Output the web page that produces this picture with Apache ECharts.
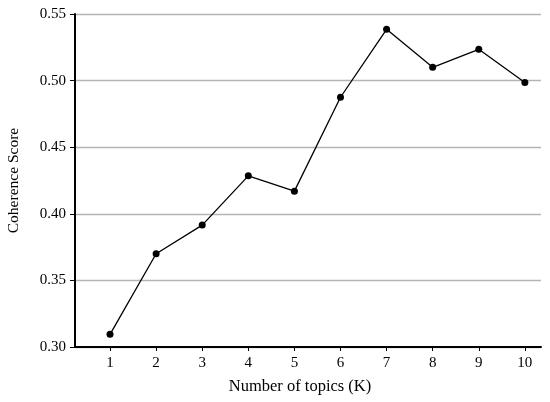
<!DOCTYPE html>
<html>
<head>
<meta charset="utf-8">
<script src="https://cdn.jsdelivr.net/npm/echarts@6/dist/echarts.min.js"></script>
<style>html,body{margin:0;padding:0;background:#fff}#c{width:550px;height:402px}</style>
</head>
<body>
<div id="c"></div>
<script>
const topics = [1, 2, 3, 4, 5, 6, 7, 8, 9, 10];
const coherence = [0.3095, 0.370, 0.3915, 0.4285, 0.4170, 0.4875, 0.5385, 0.5100, 0.5235, 0.4985];
const yTicks = [0.30, 0.35, 0.40, 0.45, 0.50, 0.55];

const font = '"Liberation Serif", "DejaVu Serif", serif';
const chart = echarts.init(document.getElementById('c'));
chart.setOption({
  animation: false,
  backgroundColor: '#fff',
  grid: { left: 75, right: 9, top: 14, bottom: 55, containLabel: false, outerBoundsMode: 'none' },
  xAxis: {
    type: 'value',
    min: 0.24,
    max: 10.35,
    name: 'Number of topics (K)',
    nameLocation: 'middle',
    nameGap: 31,
    nameTextStyle: { fontFamily: font, fontSize: 16.5, color: '#000', padding: [0, 16, 0, 0] },
    axisLine: { show: true, lineStyle: { color: '#000', width: 2 } },
    axisTick: { show: true, customValues: topics, length: 4, lineStyle: { color: '#000', width: 1 } },
    axisLabel: { customValues: topics, margin: 9, fontFamily: font, fontSize: 15, color: '#000' },
    splitLine: { show: false }
  },
  yAxis: {
    type: 'value',
    min: 0.30,
    max: 0.55,
    interval: 0.05,
    name: 'Coherence Score',
    nameLocation: 'middle',
    nameGap: 53,
    nameTextStyle: { fontFamily: font, fontSize: 15.5, color: '#000' },
    axisLine: { show: true, lineStyle: { color: '#000', width: 2 } },
    axisTick: { show: true, length: 5, lineStyle: { color: '#000', width: 1 } },
    axisLabel: { margin: 9, fontFamily: font, fontSize: 15, color: '#000', formatter: v => v.toFixed(2) },
    splitLine: { show: true, lineStyle: { color: '#b4b4b4', width: 1.3 } }
  },
  series: [{
    type: 'line',
    data: topics.map((k, i) => [k, coherence[i]]),
    symbol: 'circle',
    symbolSize: 7,
    lineStyle: { color: '#000', width: 1.3 },
    itemStyle: { color: '#000' }
  }]
});
</script>
</body>
</html>
